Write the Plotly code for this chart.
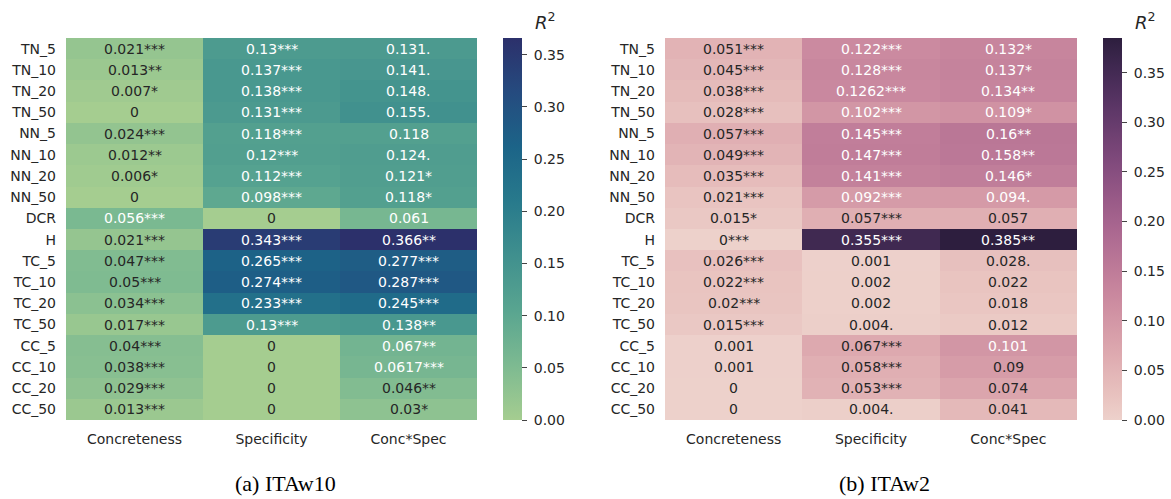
import numpy as np
import plotly.graph_objects as go

# ---------------- data ----------------
rows = ["TN_5", "TN_10", "TN_20", "TN_50", "NN_5", "NN_10", "NN_20", "NN_50", "DCR", "H",
        "TC_5", "TC_10", "TC_20", "TC_50", "CC_5", "CC_10", "CC_20", "CC_50"]
cols = ["Concreteness", "Specificity", "Conc*Spec"]

# (a) ITAw10
a_conc = [0.021, 0.013, 0.007, 0, 0.024, 0.012, 0.006, 0, 0.056, 0.021,
          0.047, 0.05, 0.034, 0.017, 0.04, 0.038, 0.029, 0.013]
a_conc_sig = ["***", "**", "*", "", "***", "**", "*", "", "***", "***",
              "***", "***", "***", "***", "***", "***", "***", "***"]
a_spec = [0.13, 0.137, 0.138, 0.131, 0.118, 0.12, 0.112, 0.098, 0, 0.343,
          0.265, 0.274, 0.233, 0.13, 0, 0, 0, 0]
a_spec_sig = ["***", "***", "***", "***", "***", "***", "***", "***", "", "***",
              "***", "***", "***", "***", "", "", "", ""]
a_cs = [0.131, 0.141, 0.148, 0.155, 0.118, 0.124, 0.121, 0.118, 0.061, 0.366,
        0.277, 0.287, 0.245, 0.138, 0.067, 0.0617, 0.046, 0.03]
a_cs_sig = [".", ".", ".", ".", "", ".", "*", "*", "", "**",
            "***", "***", "***", "**", "**", "***", "**", "*"]

# (b) ITAw2
b_conc = [0.051, 0.045, 0.038, 0.028, 0.057, 0.049, 0.035, 0.021, 0.015, 0,
          0.026, 0.022, 0.02, 0.015, 0.001, 0.001, 0, 0]
b_conc_sig = ["***", "***", "***", "***", "***", "***", "***", "***", "*", "***",
              "***", "***", "***", "***", "", "", "", ""]
b_spec = [0.122, 0.128, 0.1262, 0.102, 0.145, 0.147, 0.141, 0.092, 0.057, 0.355,
          0.001, 0.002, 0.002, 0.004, 0.067, 0.058, 0.053, 0.004]
b_spec_sig = ["***", "***", "***", "***", "***", "***", "***", "***", "***", "***",
              "", "", "", ".", "***", "***", "***", "."]
b_cs = [0.132, 0.137, 0.134, 0.109, 0.16, 0.158, 0.146, 0.094, 0.057, 0.385,
        0.028, 0.022, 0.018, 0.012, 0.101, 0.09, 0.074, 0.041]
b_cs_sig = ["*", "*", "**", "*", "**", "**", "*", ".", "", "**",
            ".", "", "", "", "", "", "", ""]

captions = ["(a) ITAw10", "(b) ITAw2"]
cbar_ticks = [0.0, 0.05, 0.10, 0.15, 0.20, 0.25, 0.30, 0.35]
cbar_ticktext = ["0.00", "0.05", "0.10", "0.15", "0.20", "0.25", "0.30", "0.35"]

# ---------------- colour scales ----------------
crest_hex = ["#a5cd90", "#7dba91", "#59a590", "#40908e", "#287a8c", "#1c6488", "#254b7f", "#2c306b"]
crest = [[i / (len(crest_hex) - 1), c] for i, c in enumerate(crest_hex)]


def cubehelix_scale(n=32, start=0.0, rot=0.4, gamma=1.0, hue=0.8, light=0.85, dark=0.15):
    out = []
    for k in range(n):
        v = k / (n - 1)
        x = light + (dark - light) * v
        xg = x ** gamma
        a = hue * xg * (1 - xg) / 2
        phi = 2 * np.pi * (start / 3 + rot * x)
        r = xg + a * (-0.14861 * np.cos(phi) + 1.78277 * np.sin(phi))
        g = xg + a * (-0.29227 * np.cos(phi) - 0.90649 * np.sin(phi))
        b = xg + a * (1.97294 * np.cos(phi))
        rgb = [int(round(255 * min(1, max(0, c)))) for c in (r, g, b)]
        out.append([v, "rgb(%d,%d,%d)" % tuple(rgb)])
    return out


cube = cubehelix_scale()


def parse(c):
    if c.startswith("#"):
        return [int(c[i:i + 2], 16) for i in (1, 3, 5)]
    return [int(t) for t in c[c.index("(") + 1:-1].split(",")]


def color_at(scale, v):
    v = min(1, max(0, v))
    for (p0, c0), (p1, c1) in zip(scale[:-1], scale[1:]):
        if p0 <= v <= p1:
            t = 0 if p1 == p0 else (v - p0) / (p1 - p0)
            a, b = parse(c0), parse(c1)
            return [a[i] + (b[i] - a[i]) * t for i in range(3)]
    return parse(scale[-1][1])


def lum(rgb):
    lin = []
    for c in rgb:
        c = c / 255
        lin.append(c / 12.92 if c <= 0.03928 else ((c + 0.055) / 1.055) ** 2.4)
    return 0.2126 * lin[0] + 0.7152 * lin[1] + 0.0722 * lin[2]


# ---------------- figure ----------------
W, H = 1171, 499
TXT = "#262626"
FONT = "DejaVu Sans"

panels = [
    dict(vals=[a_conc, a_spec, a_cs], sigs=[a_conc_sig, a_spec_sig, a_cs_sig], scale=crest,
         x0=66, x1=477, cb=503, r2=545, cap=285, xa="x", ya="y"),
    dict(vals=[b_conc, b_spec, b_cs], sigs=[b_conc_sig, b_spec_sig, b_cs_sig], scale=cube,
         x0=665, x1=1077, cb=1103, r2=1145, cap=884, xa="x2", ya="y2"),
]

top, bot = 38, 420
fig = go.Figure()
annotations = []
for p in panels:
    z = np.array(p["vals"], dtype=float).T  # rows x cols
    zmax = float(z.max())
    fig.add_trace(go.Heatmap(
        z=z, x=cols, y=rows, colorscale=p["scale"], zmin=0, zmax=zmax,
        xaxis=p["xa"], yaxis=p["ya"], hoverinfo="skip",
        colorbar=dict(
            x=p["cb"] / W, xanchor="left", y=(H - bot) / H, yanchor="bottom",
            len=bot - top, lenmode="pixels", thickness=19, xpad=0, ypad=0,
            outlinewidth=0, ticks="outside", ticklen=5, tickwidth=1, tickcolor="#444",
            tickvals=cbar_ticks, ticktext=[" " + t for t in cbar_ticktext],
            tickfont=dict(family=FONT, size=14, color=TXT),
        ),
    ))
    for ci, c in enumerate(cols):
        for ri, r in enumerate(rows):
            v = p["vals"][ci][ri]
            rgb = color_at(p["scale"], v / zmax)
            col = TXT if lum(rgb) > 0.408 else "white"
            annotations.append(dict(
                x=c, y=r, xref=p["xa"], yref=p["ya"], showarrow=False,
                text=f"{v:g}" + p["sigs"][ci][ri],
                font=dict(family=FONT, size=14, color=col),
            ))
    annotations.append(dict(
        x=p["r2"] / W, y=1 - 21 / H, xref="paper", yref="paper", showarrow=False,
        text="<i>R</i><sup>2</sup>", font=dict(family=FONT, size=18, color=TXT),
        xanchor="center", yanchor="middle",
    ))

for i, cap in enumerate(captions):
    annotations.append(dict(
        x=panels[i]["cap"] / W, y=1 - 483 / H, xref="paper", yref="paper", showarrow=False,
        text=cap, font=dict(family="Liberation Serif", size=22, color="black"),
        xanchor="center", yanchor="middle",
    ))

xcommon = dict(showgrid=False, zeroline=False, showline=False, ticks="", automargin=False,
               tickfont=dict(family=FONT, size=14, color=TXT), ticklabelstandoff=9)
ycommon = dict(showgrid=False, zeroline=False, showline=False, ticks="", automargin=False,
               autorange="reversed", tickfont=dict(family=FONT, size=14, color=TXT),
               ticklabelstandoff=9)

fig.update_layout(
    width=W, height=H, margin=dict(l=0, r=0, t=0, b=0),
    paper_bgcolor="white", plot_bgcolor="white",
    xaxis=dict(domain=[66 / W, 477 / W], anchor="y", **xcommon),
    yaxis=dict(domain=[(H - bot) / H, (H - top) / H], anchor="x", **ycommon),
    xaxis2=dict(domain=[665 / W, 1077 / W], anchor="y2", **xcommon),
    yaxis2=dict(domain=[(H - bot) / H, (H - top) / H], anchor="x2", **ycommon),
    annotations=annotations,
    showlegend=False,
)

fig.write_html("out.html", config={"displayModeBar": False},
               post_script="document.body.style.margin='0';document.body.style.overflow='hidden';")
